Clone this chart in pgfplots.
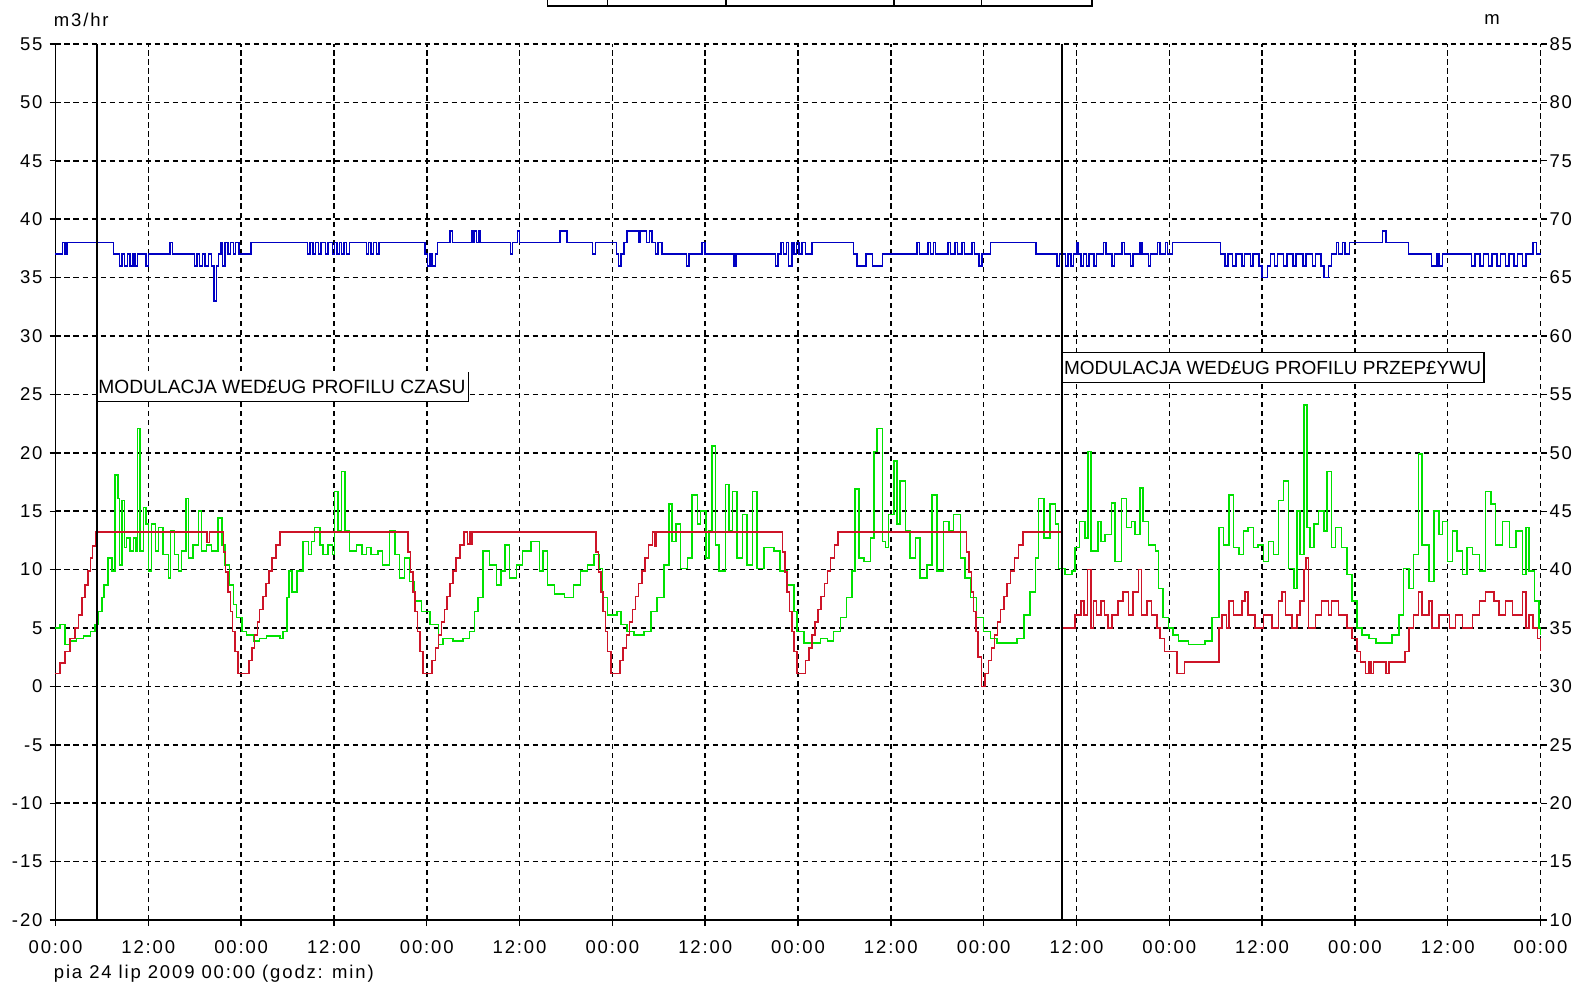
\documentclass[border=0pt]{standalone}
\usepackage{fontspec}
\setmainfont{Liberation Sans}
\newfontfamily\spaced{Liberation Sans}[LetterSpace=10]
\usepackage{pgfplots}
\pgfplotsset{compat=1.18}

\definecolor{flowgreen}{RGB}{0,225,0}
\definecolor{profred}{RGB}{205,20,40}
\definecolor{headblue}{RGB}{0,0,195}

\begin{document}
\begin{tikzpicture}[font=\fontsize{9.25}{11}\selectfont]
\begin{axis}[name=main, scale only axis, width=742.5pt, height=438pt,
    xmin=0, xmax=192, ymin=-20, ymax=55,
    xtick={0,12,...,192},
    xticklabels={00:00,12:00,00:00,12:00,00:00,12:00,00:00,12:00,00:00,12:00,00:00,12:00,00:00,12:00,00:00,12:00,00:00},
    ytick={-20,-15,...,55},
    grid=major,
    grid style={black, line width=0.75pt, dash pattern=on 2.75pt off 1.75pt},
    axis x line*=bottom, axis y line*=left,
    axis line style={-, black, line width=0.75pt},
    tick align=outside, major tick length=3pt,
    tick style={black, line width=0.7pt},
    tick label style={font=\spaced\fontsize{9.25}{11}\selectfont},
    xticklabel style={yshift=-4pt},
    /pgf/number format/assume math mode=true,
    clip=false]

% blue line (pressure), plotted in left-axis units
\addplot[const plot, no marks, headblue, line width=0.75pt] coordinates {
(0,37) (0.9,38) (1.2,37) (1.5,38) (7.5,37) (8.3,36) (8.6,37) (8.9,36) (9.3,37) (9.6,36) (10.0,37) (10.3,36) (10.6,37) (11.7,36) (12.0,37) (14.8,38) (15.1,37) (18.0,36) (18.3,37) (18.6,36) (19.0,37) (19.3,36) (19.8,37) (20.2,36) (20.5,33) (20.8,36) (21.1,37) (21.4,38) (21.6,36) (21.9,38) (22.3,37) (22.6,38) (23.0,37) (23.3,38) (23.7,37) (25.3,38)
(32.6,37) (32.9,38) (33.3,37) (33.6,38) (34.0,37) (34.3,38) (34.9,37) (35.2,38) (35.8,37) (36.1,38) (36.4,37) (36.7,38) (37.0,37) (37.3,38) (37.6,37) (38.0,38) (40.2,37) (40.5,38) (40.8,37) (41.1,38) (41.5,37) (41.8,38)
(47.8,37) (48.1,36) (48.4,37) (48.7,36) (49.1,37) (49.4,38) (51.0,39) (51.3,38) (53.8,39) (54.0,38) (54.2,39) (54.4,38) (54.7,39) (54.9,38) (58.8,37) (59.1,38) (59.7,39) (60.0,38)
(65.2,39) (66.1,38) (69.4,37) (69.8,38) (72.5,37) (72.8,36) (73.1,37) (73.5,38) (73.9,39) (75.4,38) (75.6,39) (76.4,38) (76.8,39) (77.1,38) (77.6,37) (77.9,38) (78.4,37) (81.6,36) (81.9,37) (83.6,38) (84.0,37) (87.7,36) (88.0,37)
(93.1,36) (93.4,37) (93.8,38) (94.1,37) (94.5,38) (94.8,36) (95.2,38) (95.5,37) (95.8,38) (96.1,37) (96.5,38) (97.0,37) (97.8,38) (103.2,37) (103.6,36) (104.8,37) (105.6,36) (106.9,37)
(111.4,38) (111.7,37) (112.8,38) (113.1,37) (113.5,38) (113.8,37) (115.4,38) (115.7,37) (116.3,38) (116.6,37) (117.2,38) (117.5,37) (118.5,38) (118.8,37) (119.4,36) (119.8,37) (120.9,38) (126.8,37) (129.5,36) (129.8,37)
(130.6,36) (130.9,37) (131.3,36) (131.6,37) (132.0,38) (132.2,37) (132.6,36) (132.9,37) (133.3,36) (133.6,37) (134.3,36) (134.6,37) (135.5,38) (135.8,37) (136.6,36) (136.9,37) (137.9,38) (138.2,37) (139.0,36) (139.3,37) (140.2,38) (140.5,37) (141.3,36) (141.6,37) (142.5,38) (142.8,37) (143.5,38) (143.8,37) (144.4,38)
(150.6,37) (151.2,36) (151.6,37) (152.2,36) (152.6,37) (153.4,36) (153.7,37) (154.5,36) (154.8,37) (155.6,36) (156.0,35) (156.7,36) (157.1,37) (157.6,36) (158.0,37) (158.8,36) (159.2,37) (160.0,36) (160.4,37) (161.3,36) (161.7,37) (162.5,36) (162.9,37) (163.6,36) (164.0,35) (164.6,36) (165.0,37) (165.6,38) (165.9,37) (166.4,38) (166.7,37) (167.3,38)
(171.6,39) (172.0,38) (174.9,37) (177.9,36) (178.6,37) (178.9,36) (179.3,37) (183.1,36) (183.5,37) (184.2,36) (184.6,37) (185.3,36) (185.7,37) (186.4,36) (186.8,37) (187.5,36) (187.9,37) (188.6,36) (189.0,37) (189.7,36) (190.1,37) (191.0,38) (191.5,37) (192,37)
};

% green line (flow)
\addplot[const plot, no marks, flowgreen, line width=0.75pt] coordinates {
(0,5.0) (0.6,5.3) (1.2,3.6) (1.9,3.9) (2.7,4.1) (3.6,4.3) (4.5,4.7) (5.1,5.3) (5.5,6.4) (6.0,7.6) (6.3,8.7) (6.8,11.0) (7.3,9.9) (7.7,18.1) (8.1,16.1) (8.3,10.4) (8.6,15.9) (8.9,11.9) (9.2,12.7) (9.6,11.6) (10.1,12.7) (10.4,11.6) (10.6,22.1) (10.9,11.6) (11.4,15.3) (11.7,13.9) (12.0,9.9) (12.4,13.9) (12.9,11.6) (13.3,13.6) (13.9,11.3) (14.6,9.3) (14.9,13.3) (15.4,11.3) (15.9,9.9) (16.3,11.6) (16.9,16.1) (17.2,11.0) (17.8,12.1) (18.5,15.0) (18.9,11.6) (19.5,12.1) (20.2,11.6) (21.0,14.4) (21.5,12.1) (21.9,10.4) (22.5,8.7) (23.0,7.0) (23.4,5.9) (24.1,4.7) (24.7,4.4) (25.6,3.9) (26.4,4.1) (27.3,4.3) (29.0,4.1) (29.4,4.7) (29.9,7.6) (30.2,9.9) (30.6,8.1) (31.2,9.9) (32.0,12.4) (32.7,11.3) (33.1,12.4) (33.5,13.6) (34.2,12.1) (34.6,11.3) (35.2,12.1) (35.8,11.3) (36.1,16.7) (36.5,13.3) (37.0,18.4) (37.4,13.3) (38.0,11.6) (38.9,12.1) (39.6,11.3) (40.2,11.9) (40.8,11.3) (41.7,11.6) (42.3,10.4) (43.2,13.3) (43.9,11.3) (44.5,9.3) (45.1,11.0) (45.8,9.0) (46.4,7.3) (47.3,6.4) (48.4,5.3) (49.5,3.6) (50.1,4.1) (51.4,3.9) (52.7,4.1) (53.5,4.7) (54.2,6.4) (54.6,7.6) (55.3,11.6) (56.1,10.4) (57.0,8.7) (57.6,9.9) (58.1,12.1) (58.7,9.3) (59.6,10.4) (60.4,11.6) (61.5,12.4) (62.6,9.9) (63.0,11.6) (63.6,8.7) (64.5,7.9) (65.8,7.6) (67.0,8.7) (67.9,9.9) (68.8,10.4) (69.6,11.3) (70.3,10.1) (70.7,7.6) (71.4,6.1) (72.6,6.4) (73.1,5.3) (73.9,4.7) (74.8,4.4) (76.1,4.7) (77.0,6.4) (77.8,7.6) (78.7,10.4) (79.3,15.6) (79.7,12.4) (80.2,13.9) (80.8,10.1) (81.7,11.0) (82.3,16.4) (83.0,13.9) (83.4,15.0) (84.1,11.0) (84.5,13.3) (84.9,20.6) (85.3,12.1) (85.8,9.9) (86.6,17.3) (87.1,13.3) (87.5,16.7) (88.1,11.0) (88.8,14.7) (89.4,10.4) (90.1,16.7) (90.7,10.1) (91.6,11.9) (92.9,11.6) (93.7,9.9) (94.6,8.7) (95.5,6.4) (95.9,4.7) (96.8,3.7) (98.9,4.1) (99.8,3.9) (100.6,4.7) (101.5,5.9) (102.3,7.6) (103.0,9.9) (103.4,16.9) (103.9,11.0) (104.5,10.7) (105.4,12.7) (105.8,20.1) (106.2,22.1) (106.9,12.4) (107.3,11.9) (107.7,14.7) (108.4,19.3) (108.8,13.9) (109.2,17.6) (109.9,13.3) (110.5,11.0) (111.2,12.7) (111.8,9.3) (112.7,10.4) (113.3,16.4) (114.0,9.9) (114.8,14.1) (115.5,13.3) (116.1,14.7) (117.0,11.0) (117.6,9.3) (118.3,7.6) (119.1,5.9) (120.0,4.7) (120.9,4.1) (121.7,3.7) (124.3,4.1) (125.2,6.1) (126.0,8.1) (126.7,11.0) (127.1,16.1) (127.8,12.7) (128.6,15.6) (129.3,13.9) (129.7,10.1) (130.5,9.6) (131.4,9.9) (131.8,11.9) (132.4,14.1) (133.1,12.7) (133.5,20.1) (133.9,11.6) (134.8,14.1) (135.2,12.4) (135.7,13.0) (136.5,15.7) (137.0,10.7) (137.8,16.1) (138.5,13.6) (139.1,14.1) (139.6,13.0) (140.2,17.0) (140.6,14.1) (141.3,12.1) (142.2,11.6) (142.6,8.4) (143.2,5.9) (143.9,5.0) (144.5,4.4) (145.2,3.9) (146.5,3.6) (148.6,3.9) (149.5,5.9) (150.4,13.6) (151.0,12.1) (151.7,16.4) (152.3,11.9) (153.0,11.3) (153.6,13.3) (154.2,13.6) (154.9,11.9) (155.5,12.1) (156.2,10.7) (156.8,12.4) (157.5,11.3) (158.1,15.9) (158.8,17.6) (159.4,10.1) (160.1,8.4) (160.5,15.0) (160.9,11.3) (161.4,24.1) (161.8,13.6) (162.2,11.9) (162.7,13.9) (163.3,15.0) (164.0,13.3) (164.4,18.4) (165.0,11.9) (165.5,13.6) (166.3,11.9) (167.0,9.6) (167.6,7.3) (168.3,5.0) (168.9,4.4) (169.8,4.1) (170.7,3.7) (172.8,4.4) (173.7,6.1) (174.3,10.1) (175.0,8.4) (175.6,11.3) (176.2,19.9) (176.7,12.1) (177.6,9.0) (178.2,15.0) (178.9,13.0) (179.3,14.1) (180.0,10.7) (180.6,13.3) (181.2,11.6) (181.9,9.6) (182.5,11.9) (183.2,11.3) (184.1,9.9) (184.9,16.7) (185.6,15.6) (186.2,12.1) (187.1,14.1) (188.0,11.9) (188.8,13.3) (189.7,9.6) (190.1,13.6) (190.5,9.9) (191.2,7.3) (191.8,5.0) (192.0,4.4)
};

% red line (set point / profile)
\addplot[const plot, no marks, profred, line width=0.75pt] coordinates {
(0,1.1) (0.6,2.0) (1.2,3.0) (1.9,4.1) (2.5,5.0) (3.0,6.1) (3.4,7.6) (3.8,8.7) (4.2,9.9) (4.5,11.0) (4.8,12.0) (5.2,13.2)
(19.6,12.3) (19.9,13.2)
(21.7,11.5) (22.0,9.8) (22.3,8.1) (22.6,6.4) (22.9,4.7) (23.2,3.0) (23.6,1.1)
(25.0,2.2) (25.4,3.3) (25.7,4.4) (26.1,5.5) (26.4,6.6) (26.8,7.7) (27.2,8.8) (27.6,9.9) (28.0,11.0) (28.5,12.1) (29.0,13.2)
(45.6,11.5) (45.9,9.8) (46.2,8.1) (46.5,6.4) (46.8,4.7) (47.1,3.0) (47.5,1.1)
(48.7,2.2) (49.1,3.3) (49.5,4.4) (49.9,5.5) (50.3,6.6) (50.6,7.7) (51.0,8.8) (51.4,9.9) (51.8,11.0) (52.3,12.1) (52.8,13.2)
(53.3,12.2) (53.5,13.2) (53.7,12.2) (53.9,13.2)
(69.9,11.5) (70.2,9.8) (70.5,8.1) (70.8,6.4) (71.1,4.7) (71.4,3.0) (71.8,1.1)
(73.0,2.2) (73.4,3.3) (73.8,4.4) (74.2,5.5) (74.6,6.6) (75.0,7.7) (75.4,8.8) (75.8,9.9) (76.2,11.0) (76.7,12.1) (77.2,13.2) (77.5,12.0) (77.7,13.2)
(94.0,11.5) (94.3,9.8) (94.6,8.1) (94.9,6.4) (95.2,4.7) (95.5,3.0) (95.9,1.1)
(97.0,2.2) (97.4,3.3) (97.8,4.4) (98.2,5.5) (98.6,6.6) (99.0,7.7) (99.4,8.8) (99.8,9.9) (100.2,11.0) (100.7,12.1) (101.2,13.2)
(117.8,11.5) (118.1,9.8) (118.4,8.1) (118.7,6.4) (119.0,4.7) (119.3,2.5) (119.7,0.0)
(120.2,1.1) (120.6,2.2) (121.0,3.3) (121.4,4.4) (121.8,5.5) (122.2,6.6) (122.6,7.7) (123.0,8.8) (123.5,9.9) (124.0,11.0) (124.5,12.1) (125.1,13.2)
(130.1,5.0) (131.8,6.1) (132.6,7.3) (133.0,6.1) (133.4,10.0) (133.9,5.0) (134.2,7.3) (134.6,6.1) (135.2,7.3) (135.6,6.1) (136.1,5.0) (136.6,6.1) (137.4,7.3) (138.0,8.1) (138.7,6.1) (139.3,8.1) (140.0,10.0) (140.4,6.1) (141.1,7.3) (141.7,6.1) (142.4,5.0) (142.8,4.1) (143.4,3.0) (145.0,1.1) (146.0,2.1)
(150.4,5.0) (150.8,6.1) (151.4,5.0) (151.7,7.3) (152.3,6.1) (153.4,7.3) (153.8,8.1) (154.2,6.1) (155.1,5.0) (156.2,6.1) (157.3,5.0) (158.1,7.3) (158.6,8.1) (159.0,6.1) (159.9,5.0) (160.5,6.1) (160.9,7.3) (161.4,10.0) (161.7,11.0) (162.0,5.0) (162.9,6.1) (163.7,7.3) (164.6,6.1) (165.0,7.3) (165.9,6.1) (167.0,5.0) (167.6,4.1) (168.3,3.0) (168.7,2.1) (169.4,1.1) (169.8,2.1) (170.1,1.1) (170.4,2.1) (172.0,1.1) (172.4,2.1)
(174.5,3.0) (175.0,5.0) (175.6,6.1) (176.2,8.1) (176.7,6.1) (177.6,7.3) (178.0,5.0) (178.9,6.1) (180.2,5.0) (181.0,6.1) (181.9,5.0) (183.2,6.1) (184.1,7.3) (184.9,8.1) (186.0,7.3) (186.6,6.1) (187.5,7.3) (188.4,6.1) (189.7,8.1) (190.1,5.0) (190.5,6.1) (191.0,5.0) (191.6,4.1) (192.0,3.0)
};

% annotation boxes
\fill[white] (axis cs:5.35,24.4) rectangle (axis cs:53.4,26.9);
\draw[black, line width=0.7pt] (axis cs:53.4,26.9) -- (axis cs:53.4,24.4) -- (axis cs:5.35,24.4);
\node[anchor=west, inner sep=0pt, font=\fontsize{9.6}{11}\selectfont] at (axis cs:5.5,25.65) {MODULACJA WED£UG PROFILU CZASU};
\filldraw[fill=white, draw=black, line width=0.7pt] (axis cs:130.2,26.0) rectangle (axis cs:184.7,28.57);
\node[anchor=west, inner sep=0pt, font=\fontsize{9.5}{11}\selectfont] at (axis cs:130.35,27.28) {MODULACJA WED£UG PROFILU PRZEP£YWU};
\draw[black, line width=0.8pt] (axis cs:5.35,-20) -- (axis cs:5.35,55);
\draw[black, line width=0.8pt] (axis cs:130.1,-20) -- (axis cs:130.1,55);

% bottom edge of the legend box above the plot (rest is cut off by the page)
\draw[black, line width=0.7pt] (axis cs:63.6,62) -- (axis cs:63.6,58.25) -- (axis cs:134.0,58.25) -- (axis cs:134.0,62);
\draw[black, line width=0.7pt] (axis cs:71.4,58.25) -- (axis cs:71.4,62);
\draw[black, line width=0.7pt] (axis cs:86.7,58.25) -- (axis cs:86.7,62);
\draw[black, line width=0.7pt] (axis cs:108.4,58.25) -- (axis cs:108.4,62);
\draw[black, line width=0.7pt] (axis cs:119.7,58.25) -- (axis cs:119.7,62);
\end{axis}

\begin{axis}[scale only axis, width=742.5pt, height=438pt,
    xmin=0, xmax=192, ymin=10, ymax=85,
    axis x line=none, axis y line*=right,
    y axis line style={draw=none},
    ytick={10,15,...,85},
    tick align=outside, major tick length=3pt,
    tick style={black, line width=0.7pt},
    tick label style={font=\spaced\fontsize{9.25}{11}\selectfont},
    yticklabel style={xshift=-2pt},
    /pgf/number format/assume math mode=true]
\addplot[draw=none] coordinates {(0,10) (192,85)};
\end{axis}

\node[anchor=west, inner sep=0pt, font=\spaced\fontsize{9.25}{11}\selectfont] at ([xshift=-1pt,yshift=12pt]main.north west) {m3/hr};
\node[font=\spaced\fontsize{9.25}{11}\selectfont] at ([xshift=-24.25pt,yshift=12pt]main.north east) {m};
\node[anchor=west, inner sep=0pt, font=\spaced\fontsize{9.25}{11}\selectfont] at ([xshift=-1pt,yshift=-27pt]main.south west) {pia 24 lip 2009 00:00 (godz: min)};

\pgfresetboundingbox
\path[use as bounding box] ([xshift=-27.75pt,yshift=-33.5pt]main.south west) rectangle ([xshift=18.25pt,yshift=22pt]main.north east);
\end{tikzpicture}
\end{document}
